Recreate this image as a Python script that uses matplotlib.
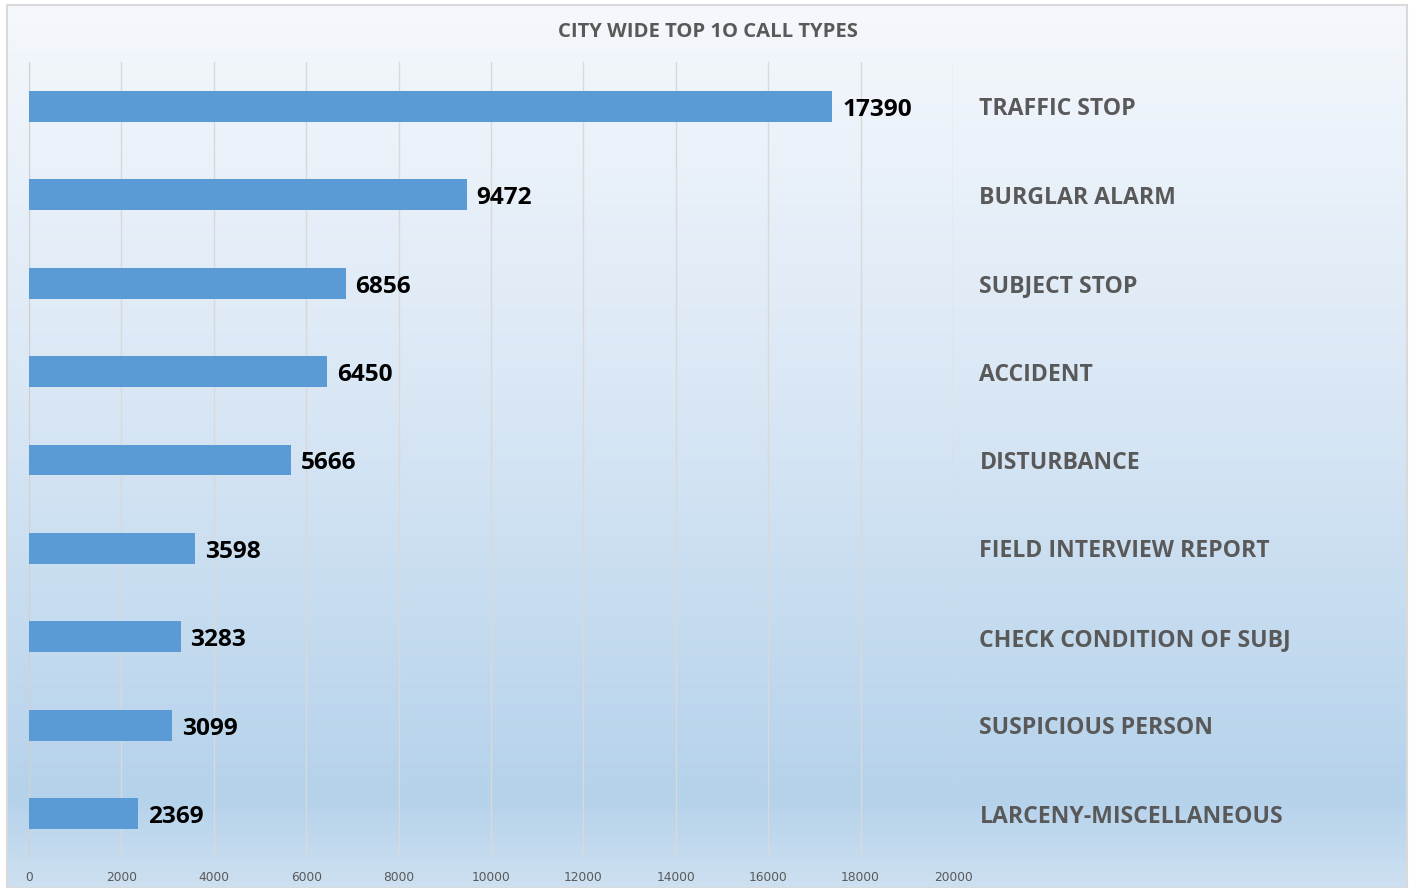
import numpy as np
import matplotlib.pyplot as plt
from matplotlib.colors import LinearSegmentedColormap

# data
call_types = ['TRAFFIC STOP', 'BURGLAR ALARM', 'SUBJECT STOP', 'ACCIDENT',
              'DISTURBANCE', 'FIELD INTERVIEW REPORT', 'CHECK CONDITION OF SUBJ',
              'SUSPICIOUS PERSON', 'LARCENY-MISCELLANEOUS']
counts = [17390, 9472, 6856, 6450, 5666, 3598, 3283, 3099, 2369]
x_ticks = list(range(0, 20001, 2000))

W, H = 1414, 888
fig = plt.figure(figsize=(W / 100, H / 100), dpi=100)
fig.patch.set_facecolor('white')

# gradient background inside the chart border
bg = fig.add_axes([7 / W, 0, 1400 / W, (H - 5) / H])
cmap = LinearSegmentedColormap.from_list(
    'bg', [(0, '#f5f8fc'), (0.45, '#d9e7f5'), (0.9, '#b5d2eb'), (1.0, '#cde0f1')])
grad = np.linspace(0, 1, 256).reshape(-1, 1)
bg.imshow(grad, aspect='auto', cmap=cmap, extent=[0, 1, 0, 1], origin='upper')
bg.set_xticks([])
bg.set_yticks([])
for s in bg.spines.values():
    s.set_color('#d9d9d9')
    s.set_linewidth(1.5)
bg.set_zorder(0)

ax = fig.add_axes([29 / W, 30 / H, (953 - 29) / W, (858 - 62) / H])
ax.set_zorder(1)
ax.patch.set_alpha(0)

y = np.arange(len(call_types))
ax.barh(y, counts, height=0.35, color='#5b9bd5', zorder=3)

ax.set_xlim(0, 20000)
ax.set_ylim(len(call_types) - 0.5, -0.5)
ax.set_xticks(x_ticks)
ax.set_xticklabels([str(t) for t in x_ticks], fontsize=8.8, color='#595959',
                   family='Liberation Sans Narrow')
ax.tick_params(axis='x', length=0, pad=9)
ax.grid(axis='x', color='#d9d9d9', linewidth=1, zorder=0)

ax.yaxis.tick_right()
ax.set_yticks(y)
ax.set_yticklabels(call_types, fontsize=16.6, fontweight='bold', color='#595959',
                   family='Open Sans')
ax.tick_params(axis='y', length=0, pad=19)

for s in ['top', 'right', 'bottom']:
    ax.spines[s].set_visible(False)
ax.spines['left'].set_color('#d0d0d0')

for i, v in enumerate(counts):
    ax.annotate(str(v), (v, i), xytext=(7, -2.5), textcoords='offset points',
                ha='left', va='center', fontsize=17.6, fontweight='bold',
                color='black', family='Open Sans')

fig.text(708 / W, 1 - 32 / H, 'CITY WIDE TOP 1O CALL TYPES', ha='center', va='center',
         fontsize=14.6, fontweight='bold', color='#595959', family='Open Sans')

fig.savefig('out.png', dpi=100)
